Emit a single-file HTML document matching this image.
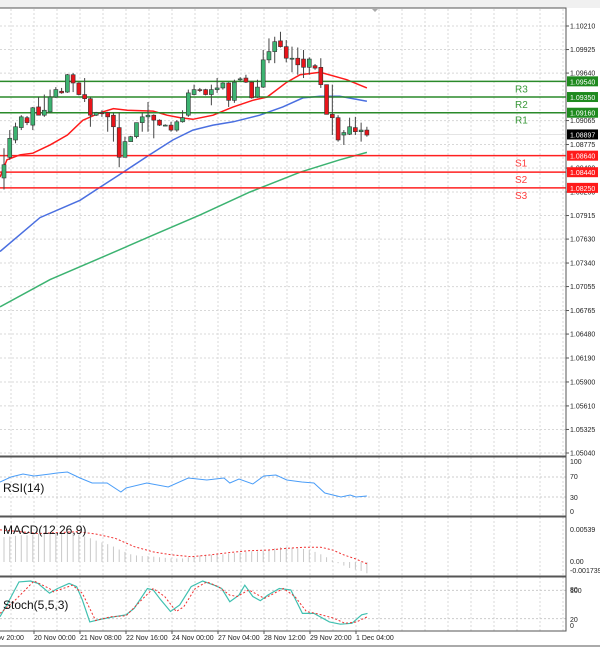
<!DOCTYPE html>
<html><head><meta charset="utf-8"><style>
html,body{margin:0;padding:0;background:#fff;}
svg{display:block;font-family:"Liberation Sans",sans-serif;}
</style></head><body>
<svg id="chart" width="600" height="649" viewBox="0 0 600 649" xmlns="http://www.w3.org/2000/svg">
<rect x="0" y="0" width="600" height="8" fill="#f0f0f0"/>
<polygon points="372,9 378,9 375,12" fill="#aaa"/>
<g id="grid"></g><g id="main"></g><g id="ind"></g><g id="axes"></g>
</svg>
<script>
// ---------- data ----------
const opens  = [1.0837,1.0862,1.0883,1.0898,1.0910,1.0901,1.0923,1.0913,1.0917,1.0935,1.0942,1.0941,1.0962,1.0952,1.0938,1.0933,1.0913,1.0916,1.0916,1.0913,1.0898,1.0862,1.0881,1.0887,1.0904,1.0911,1.0913,1.0907,1.0901,1.0901,1.0895,1.0905,1.0913,1.0938,1.0944,1.0944,1.0938,1.0944,1.0946,1.0952,1.0931,1.0957,1.0958,1.0953,1.0935,1.0947,1.0980,1.0990,1.1003,1.0996,1.0982,1.0982,1.0981,1.0971,1.0973,1.0971,1.0950,1.0914,1.0910,1.0889,1.0890,1.0898,1.0893,1.0895];
const highs  = [1.0873,1.0895,1.0904,1.0913,1.0912,1.0923,1.0935,1.0938,1.0944,1.0947,1.0946,1.0963,1.0964,1.0953,1.0958,1.0935,1.0917,1.0919,1.0917,1.0916,1.0916,1.0887,1.0888,1.0904,1.0916,1.0929,1.0914,1.0908,1.0902,1.0905,1.0907,1.0919,1.0944,1.0950,1.0946,1.0945,1.0950,1.0958,1.0953,1.0953,1.0956,1.0959,1.0962,1.0954,1.0956,1.0992,1.1006,1.1008,1.1014,1.1004,1.0996,1.0995,1.0992,1.0983,1.0975,1.0982,1.0950,1.0950,1.0913,1.0895,1.0910,1.0911,1.0904,1.0899];
const lows   = [1.0823,1.0859,1.0879,1.0895,1.0901,1.0895,1.0913,1.0911,1.0916,1.0934,1.0939,1.0940,1.0941,1.0937,1.0929,1.0899,1.0912,1.0911,1.0893,1.0881,1.0850,1.0862,1.0881,1.0885,1.0893,1.0893,1.0885,1.0900,1.0900,1.0893,1.0893,1.0904,1.0911,1.0937,1.0941,1.0937,1.0925,1.0940,1.0944,1.0923,1.0928,1.0954,1.0952,1.0933,1.0934,1.0946,1.0976,1.0976,1.0995,1.0977,1.0965,1.0962,1.0958,1.0962,1.0968,1.0946,1.0914,1.0889,1.0881,1.0877,1.0889,1.0889,1.0881,1.0887];
const closes = [1.0853,1.0885,1.0899,1.0911,1.0904,1.0922,1.0913,1.0919,1.0935,1.0944,1.0940,1.0962,1.0952,1.0938,1.0933,1.0913,1.0916,1.0915,1.0911,1.0899,1.0862,1.0881,1.0887,1.0904,1.0911,1.0913,1.0907,1.0901,1.0901,1.0895,1.0905,1.0910,1.0940,1.0944,1.0943,1.0938,1.0944,1.0946,1.0952,1.0931,1.0953,1.0957,1.0953,1.0934,1.0947,1.0980,1.0990,1.1002,1.0996,1.0982,1.0982,1.0974,1.0971,1.0981,1.0970,1.0950,1.0914,1.0910,1.0883,1.0892,1.0899,1.0893,1.0895,1.0889];
const maRedIdx = [-0.7,0.5,2.8,5,8,11,13.7,16.7,19,21.4,25.9,28.3,30.6,32.8,36.3,39.8,43.2,45.7,49.1,51.4,54.9,59.5,63];
const maRedVal = [1.0838,1.0859,1.0865,1.0867,1.0877,1.0889,1.0907,1.0916,1.0921,1.0919,1.0918,1.0913,1.0910,1.0908,1.0913,1.0923,1.0931,1.0935,1.0953,1.0962,1.0965,1.0956,1.0946];
const maBlueIdx = [-0.7,6.25,13.2,16.7,20.7,25.3,29.3,32.8,36.3,39.8,44.4,48.4,51.9,54.9,58.3,63];
const maBlueVal = [1.0748,1.0789,1.0810,1.0826,1.0844,1.0865,1.0883,1.0895,1.0901,1.0905,1.0913,1.0923,1.0934,1.0936,1.0936,1.0930];
const maGreenIdx = [-0.7,8,16.7,25.3,34,42.7,51.4,58.3,63];
const maGreenVal = [1.0681,1.0714,1.0740,1.0766,1.0792,1.0820,1.0844,1.0859,1.0868];
const levelNames = ["R3","R2","R1","S1","S2","S3"];
const levelVals = [1.0954,1.0935,1.0916,1.0864,1.0844,1.0825];
const levelText = ["1.09540","1.09350","1.09160","1.08640","1.08440","1.08250"];
const currentPrice = 1.08897;
const priceTicks = [1.10210,1.09925,1.09640,1.09065,1.08775,1.08490,1.08200,1.07915,1.07630,1.07340,1.07055,1.06765,1.06480,1.06190,1.05900,1.05610,1.05325,1.05040];
const rsiIdx = [-0.7,1.2,3.3,5.2,8,9.2,11,13.2,15.3,17.9,20.3,21.2,24.8,28.5,32,35.2,38.2,39.2,40.8,43.2,45.1,47.2,49.1,51.7,53.8,55.7,58.5,60.1,61.1,63];
const rsiVal = [60,70,76,72,76,78,80,68,58,58,40,48,58,50,68,64,68,58,66,56,72,74,64,60,58,38,30,34,30,32];
const macdHist = [0.0042,0.0043,0.0044,0.0045,0.0045,0.0046,0.0047,0.0048,0.0048,0.0049,0.0049,0.0049,0.0048,0.0046,0.0043,0.0040,0.0036,0.0033,0.0030,0.0026,0.0021,0.0017,0.0013,0.0011,0.0010,0.0010,0.0009,0.0008,0.0007,0.0006,0.0006,0.0006,0.0008,0.0010,0.0011,0.0012,0.0012,0.0013,0.0013,0.0014,0.0015,0.0016,0.0017,0.0018,0.0018,0.0019,0.0021,0.0023,0.0025,0.0025,0.0024,0.0023,0.0022,0.0020,0.0017,0.0013,0.0008,0.0003,-0.0002,-0.0006,-0.0010,-0.0013,-0.0015,-0.0019];
const macdSigIdx = [-0.7,0.7,5.9,12.7,16,19.3,22.6,25.9,29.2,32.5,35.8,39.2,42.5,45.8,49.1,52.4,55,57.1,59,61.1,63];
const macdSigVal = [0.0054,0.0053,0.0048,0.0051,0.0047,0.0040,0.0026,0.0017,0.0012,0.0009,0.0012,0.0016,0.0019,0.0020,0.0023,0.0025,0.0025,0.0020,0.0012,0.0005,-0.0003];
const stMainIdx = [-0.7,0.6,2.6,4.6,5.9,7.9,9.3,11.3,12.6,13.6,14.9,16.6,19.2,21.2,22.6,24.9,25.9,27.2,28.9,30.5,32.5,34.5,36.5,37.8,39.2,40.8,41.8,43.2,44.5,45.8,47.8,49.8,51.8,53.8,56.5,58.4,60.4,62.1,63.1];
const stMainVal = [24,52,98,100,95,74,84,95,88,60,13,18,24,28,42,84,81,60,35,49,88,100,91,84,56,70,91,67,58,70,84,81,31,31,13,8,10,28,31];
const stSigIdx = [-0.7,2,5.2,7.9,8.6,11.9,13.6,15.9,18.6,21.2,23.9,25.9,27.9,29.9,31.2,33.2,35.2,37.2,39.2,40.5,42.5,45.2,48.5,50.5,52.5,54.5,57.2,59.2,61.2,63.1];
const stSigVal = [31,60,100,84,77,91,74,16,24,26,60,84,67,35,45,84,98,88,70,67,81,63,84,67,35,30,21,10,13,24];
const timeLabels = ["ov 20:00","20 Nov 00:00","21 Nov 08:00","22 Nov 16:00","24 Nov 00:00","27 Nov 04:00","28 Nov 12:00","29 Nov 20:00","1 Dec 04:00"];

// ---------- scales ----------
const NS="http://www.w3.org/2000/svg";
const PR=566;
const xI = i => 4 + i*5.76;
const yP = p => 26 + (1.1021 - p)*8259;
const yR = v => 512 - v*0.5;
const yM = v => 562 - v*5937;
const yS = v => 628 - Math.min(v,100)*0.47;
function mk(parent, tag, attrs){const e=document.createElementNS(NS,tag);for(const k in attrs)e.setAttribute(k,attrs[k]);document.getElementById(parent).appendChild(e);return e;}
function pathFrom(idx, vals, ys){return idx.map((i,k)=>(k?'L':'M')+xI(i).toFixed(1)+','+ys(vals[k]).toFixed(1)).join(' ');}

// ---------- grid ----------
for(let x=34-23*1; x<PR; x+=23){
  const l=mk('grid','line',{x1:x,x2:x,y1:9,y2:631,stroke:'#d8d8d8','stroke-dasharray':'2,2'});
  
  
}
priceTicks.forEach(p=>{
  const l=mk('grid','line',{x1:0,x2:PR,y1:yP(p),y2:yP(p),stroke:'#d8d8d8','stroke-dasharray':'2,2'});
  
  
});
[70,30].forEach(v=>{const l=mk('grid','line',{x1:0,x2:PR,y1:yR(v),y2:yR(v),stroke:'#ccc','stroke-dasharray':'2,2'});
  
  });
[80,20].forEach(v=>{const l=mk('grid','line',{x1:0,x2:PR,y1:yS(v),y2:yS(v),stroke:'#ccc','stroke-dasharray':'2,2'});
  
  });
{const l=mk('grid','line',{x1:0,x2:PR,y1:yP(currentPrice),y2:yP(currentPrice),stroke:'#e4e4e4'});
 
 }

// ---------- MAs ----------
[[maGreenIdx,maGreenVal,'#3cb371','ma-green'],[maBlueIdx,maBlueVal,'#4a6fe0','ma-blue'],[maRedIdx,maRedVal,'#ff1a1a','ma-red']].forEach(([ix,v,c,n])=>{
  const p=mk('main','path',{d:pathFrom(ix,v,yP),fill:'none',stroke:c,'stroke-width':1.5});
  
  
});

// ---------- levels ----------
levelVals.forEach((v,k)=>{
  const c = k<3 ? '#2a8a2a' : '#ff2020';
  const y=yP(v);
  const l=mk('main','line',{x1:0,x2:PR,y1:y,y2:y,stroke:c,'stroke-width':1.5});
  
  
  const t=mk('main','text',{x:515,y:y+(k<3?11:11),fill:k<3?'#3a9a3a':'#ff4040','font-size':10});
  t.textContent=levelNames[k];
  
  
});

// ---------- candles ----------
opens.forEach((o,i)=>{
  const x=xI(i), c=closes[i], up=c>=o;
  const w=mk('main','line',{x1:x,x2:x,y1:yP(highs[i]),y2:yP(lows[i]),stroke:'#444','stroke-width':1});
  
  
  const top=yP(Math.max(o,c)), h=Math.max(1,Math.abs(yP(o)-yP(c)));
  const b=mk('main','rect',{x:x-2,y:top,width:4,height:h,fill:up?'#3cb371':'#e8141a',stroke:'#333','stroke-width':0.6});
  
  
});

// ---------- RSI ----------
{const p=mk('ind','path',{d:pathFrom(rsiIdx,rsiVal,yR),fill:'none',stroke:'#4a9df8','stroke-width':1});
 
 }
// ---------- MACD ----------
macdHist.forEach((v,i)=>{
  const l=mk('ind','line',{x1:xI(i),x2:xI(i),y1:yM(0),y2:yM(v),stroke:'#c8c8c8','stroke-width':1});
  
  
});
{const p=mk('ind','path',{d:pathFrom(macdSigIdx,macdSigVal,yM),fill:'none',stroke:'#f03030','stroke-width':1,'stroke-dasharray':'2,2'});
 
 }
// ---------- Stoch ----------
{const p=mk('ind','path',{d:pathFrom(stMainIdx,stMainVal,yS),fill:'none',stroke:'#40c0b0','stroke-width':1.2});
 
 }
{const p=mk('ind','path',{d:pathFrom(stSigIdx,stSigVal,yS),fill:'none',stroke:'#f03030','stroke-width':1,'stroke-dasharray':'2,2'});
 
 }

// ---------- panel borders, axes ----------
[[8,456],[457,516],[517,576],[577,631]].forEach(([a,b],k)=>{
  const r=mk('axes','rect',{x:-1,y:a,width:PR+1,height:b-a,fill:'none',stroke:'#555','stroke-width':1});
  
  
});
{const l=mk('axes','line',{x1:0,x2:600,y1:646,y2:646,stroke:'#aaa','stroke-width':2});
 
 }
priceTicks.forEach((p,k)=>{
  const y=yP(p);
  const tk=mk('axes','line',{x1:PR,x2:PR+3,y1:y,y2:y,stroke:'#555'});
  
  
  const t=mk('axes','text',{x:570,y:y+2.5,'font-size':7,fill:'#222'});
  t.textContent=p.toFixed(5);
  
  
});
levelVals.forEach((v,k)=>{
  const y=yP(v);
  const r=mk('axes','rect',{x:567,y:y-5,width:31,height:10,fill:k<3?'#1e8a1e':'#ff1a1a'});
  
  
  const t=mk('axes','text',{x:570,y:y+3,'font-size':7,fill:'#fff'});
  t.textContent=levelText[k];
  
  
});
{const y=yP(currentPrice);
 const r=mk('axes','rect',{x:567,y:y-5,width:31,height:10,fill:'#000'});
 
 
 const t=mk('axes','text',{x:570,y:y+3,'font-size':7,fill:'#fff'});
 t.textContent=currentPrice.toFixed(5);
 
 }
function lab(txt,y,name){const t=mk('axes','text',{x:570,y:y,'font-size':7,fill:'#222'});t.textContent=txt;
 
 }
lab('100',464,'rsi-axis-label');lab('70',479,'rsi-axis-label');lab('30',500,'rsi-axis-label');lab('0',514,'rsi-axis-label');
lab('0.00539',532,'macd-axis-label');lab('0.00',564,'macd-axis-label');lab('-0.001739',573,'macd-axis-label');
lab('100',593,'stoch-axis-label');lab('80',592,'stoch-axis-label');lab('20',622,'stoch-axis-label');lab('0',628,'stoch-axis-label');
function ttl(txt,y,name){const t=mk('axes','text',{x:3,y:y,'font-size':12,fill:'#111'});t.textContent=txt;
 
 }
ttl('RSI(14)',492,'rsi-title');ttl('MACD(12,26,9)',534,'macd-title');ttl('Stoch(5,5,3)',609,'stoch-title');
timeLabels.forEach((s,k)=>{
  const x = k===0 ? -3 : 34+46*(k-1);
  const t=mk('axes','text',{x:x,y:640,'font-size':7,fill:'#222'});
  t.textContent=s;
  
  
  if(k>0){const l=mk('axes','line',{x1:x,x2:x,y1:631,y2:634,stroke:'#555'});
    
    }
});
</script>
</body></html>
